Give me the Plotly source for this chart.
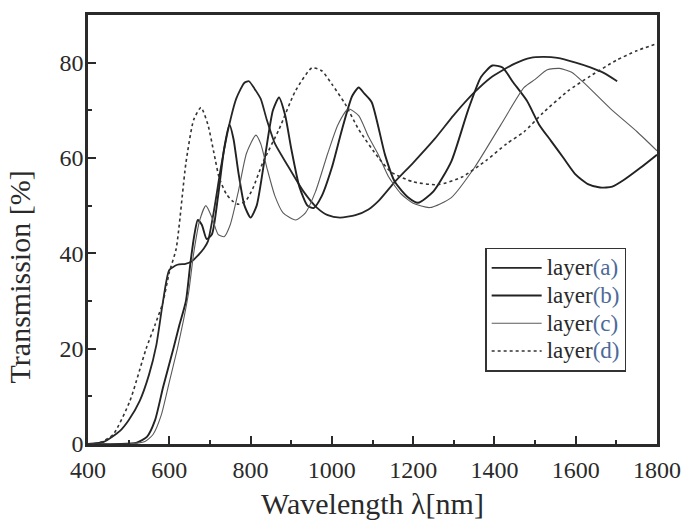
import plotly.graph_objects as go

# Transmission spectra of four layers, wavelength in nm, transmission in %
wl_a = [400, 440, 478, 500, 527, 550, 568, 584, 600, 620, 640, 655, 670, 685, 695, 710, 727,
        745, 765, 785, 796, 810, 825, 840, 860, 890, 930, 963, 990, 1020, 1058, 1090, 1115,
        1155, 1200, 1253, 1300, 1351, 1390, 1416, 1450, 1489, 1520, 1555, 1600, 1636, 1670, 1702]
tr_a = [0, 0.5, 2.7, 5, 9, 14.5, 20.7, 29.6, 36.5, 37.6, 37.8, 38.3, 39.5, 41, 42.5, 49, 58,
        66, 72.5, 75.8, 76.1, 74.5, 72.4, 68, 63, 58.6, 53, 49.6, 48, 47.5, 48, 49.2, 51,
        55, 59, 64, 69, 73.8, 76.8, 78.2, 79.8, 81, 81.2, 81, 80, 79, 77.8, 76.1]

wl_b = [400, 480, 520, 545, 565, 585, 610, 625, 641, 652, 662, 670, 680, 692, 705, 720, 735,
        748, 758, 770, 785, 800, 815, 835, 855, 870, 885, 900, 920, 940, 955, 975, 1000,
        1025, 1050, 1066, 1080, 1098, 1131, 1155, 1188, 1212, 1250, 1294, 1335, 1367, 1395,
        1420, 1445, 1480, 1510, 1540, 1570, 1600, 1630, 1660, 1690, 1720, 1760, 1800]
tr_b = [0, 0, 0.3, 1.5, 5, 12, 20, 25, 30, 38, 44, 47, 46, 43, 44, 52, 62,
        67, 64, 57, 50, 47.5, 50, 60, 70, 72.7, 69, 62, 54, 50, 49.5, 52, 58,
        66, 73, 74.8, 73.5, 71.7, 60.6, 55, 51.7, 50.6, 53, 59.3, 70, 77, 79.4,
        79, 76, 72, 67, 63.5, 60, 56.5, 54.5, 53.8, 54, 55.5, 58, 60.7]

wl_c = [400, 500, 540, 560, 580, 600, 620, 635, 648, 660, 675, 690, 705, 720, 735, 750, 770,
        790, 813, 825, 840, 860, 880, 911, 935, 960, 990, 1015, 1041, 1066, 1090, 1115,
        1140, 1170, 1200, 1241, 1294, 1351, 1416, 1473, 1500, 1530, 1560, 1590, 1620, 1686,
        1751, 1800]
tr_c = [0, 0, 0.5, 2, 6, 13, 20, 26, 32, 40, 47, 50, 47.5, 44, 43.5, 46, 53,
        61, 64.8, 63, 58, 52, 48.5, 47, 48.5, 53, 61, 67, 70.3, 68.9, 64.5, 60.6,
        56, 52.5, 50.5, 49.6, 51.7, 58, 67, 74.8, 76.5, 78.5, 78.8, 78, 75.8, 70.3,
        65.5, 61.5]

wl_d = [400, 430, 462, 503, 543, 565, 584, 600, 617, 641, 660, 678, 695, 710, 723, 740, 755,
        770, 788, 805, 830, 870, 910, 951, 975, 1000, 1033, 1066, 1115, 1147, 1200, 1261,
        1320, 1380, 1430, 1473, 1520, 1580, 1636, 1700, 1750, 1800]
tr_d = [0, 0.3, 2, 9, 20, 25, 29.6, 36, 41, 59, 68, 70.6, 67, 61, 55.8, 52.5, 51,
        50.3, 51, 53.5, 59, 66, 74, 78.9, 78.3, 75.5, 71.3, 66, 60, 57, 55, 54.4,
        56, 59.5, 63, 65.5, 69.5, 74, 77.2, 80.5, 82.5, 84]

letters = ["(a)", "(b)", "(c)", "(d)"]
names = [f"<span style='font-size:23px'>layer<span style='color:#4d6a99'>{s}</span></span>"
         for s in letters]

x_ticks = [400, 600, 800, 1000, 1200, 1400, 1600, 1800]
y_ticks = [0, 20, 40, 60, 80]

fig = go.Figure()
fig.add_trace(go.Scatter(x=wl_a, y=tr_a, mode="lines", name=names[0],
                         line=dict(color="#262626", width=1.8, shape="spline", smoothing=0.6)))
fig.add_trace(go.Scatter(x=wl_b, y=tr_b, mode="lines", name=names[1],
                         line=dict(color="#222222", width=1.9, shape="spline", smoothing=0.6)))
fig.add_trace(go.Scatter(x=wl_c, y=tr_c, mode="lines", name=names[2],
                         line=dict(color="#5a5a5a", width=1.1, shape="spline", smoothing=0.6)))
fig.add_trace(go.Scatter(x=wl_d, y=tr_d, mode="lines", name=names[3],
                         line=dict(color="#333333", width=1.6, dash="3px,3px",
                                   shape="spline", smoothing=0.6)))

ink = "#2a2a2a"
tick_font = dict(family="Liberation Serif", size=24, color=ink)
title_font = dict(family="Liberation Serif", size=30, color=ink)

fig.update_layout(
    width=693, height=528,
    margin=dict(l=88, r=32, t=15, b=78),
    paper_bgcolor="white", plot_bgcolor="white",
    font=dict(family="Liberation Serif", color=ink),
    showlegend=True,
    legend=dict(x=0.698, y=0.458, xanchor="left", yanchor="top",
                bgcolor="white", bordercolor="#333333", borderwidth=1.5,
                font=dict(family="Liberation Serif", size=19, color=ink),
                itemwidth=50, tracegroupgap=0),
    xaxis=dict(range=[400, 1800], tickvals=x_ticks, ticks="inside", ticklen=8, tickwidth=2,
               tickcolor=ink, showline=True, linewidth=2.5, linecolor=ink,
               mirror=True, showgrid=False, zeroline=False, tickfont=tick_font,
               ticklabelstandoff=2,
               minor=dict(ticks="inside", dtick=100, ticklen=4, tickwidth=2, tickcolor=ink),
               title=dict(text="Wavelength λ[nm]", font=title_font, standoff=12)),
    yaxis=dict(range=[0, 90], tickvals=y_ticks, ticks="inside", ticklen=8, tickwidth=2,
               tickcolor=ink, showline=True, linewidth=2.5, linecolor=ink,
               mirror=True, showgrid=False, zeroline=False, tickfont=tick_font,
               ticklabelstandoff=-3,
               minor=dict(ticks="inside", dtick=10, ticklen=4, tickwidth=2, tickcolor=ink)),
    annotations=[dict(text="Transmission [%]", textangle=-90, showarrow=False,
                      xref="paper", yref="paper", x=-0.12, y=0.39,
                      xanchor="center", yanchor="middle", font=title_font)],
)

fig.write_html("out.html")
